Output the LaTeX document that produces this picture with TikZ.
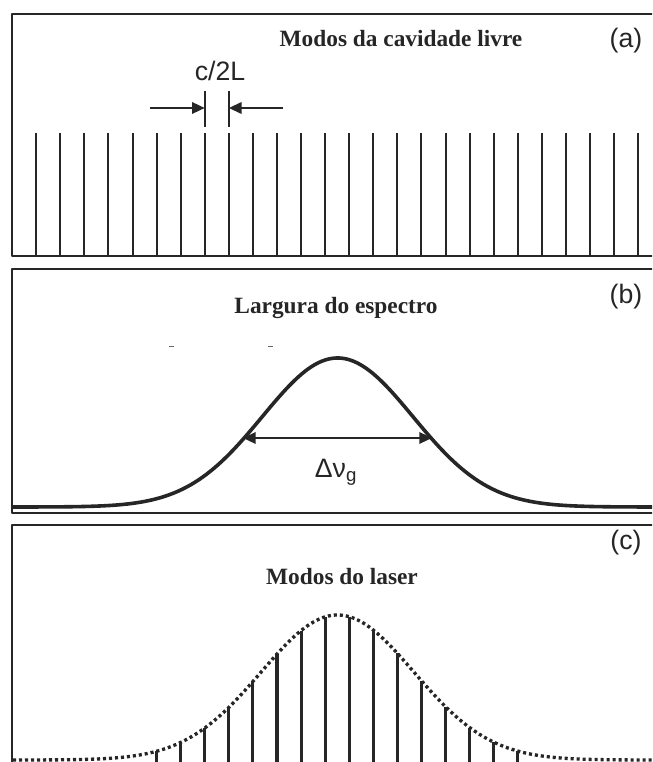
\documentclass[tikz,border=0pt]{standalone}
\usepackage{fontspec}
\setmainfont{Liberation Serif}
\setsansfont{Liberation Sans}
\usepackage{tikz}
\usetikzlibrary{arrows.meta}
\definecolor{ink}{HTML}{262626}
\tikzset{
  spec/.style={x=0.75pt, y=-0.75pt, line join=round},
  panel/.style={draw=ink, line width=2.1pt},
  mode/.style={draw=ink, line width=1.5pt},
  lmode/.style={draw=ink, line width=2.3pt},
  ptitle/.style={font=\fontsize{17.5}{20}\selectfont\bfseries, text=ink, inner sep=0pt},
  ptag/.style={font=\sffamily\fontsize{20}{24}\selectfont, text=ink, inner sep=0pt},
  dim/.style={draw=ink, line width=1.6pt, -{Triangle[length=9.5pt, width=8.5pt]}},
  gain/.style={draw=ink, line width=2.7pt},
  gaindot/.style={draw=ink, line width=2.5pt, dash pattern=on 2.3pt off 2.2pt}
}
\newcommand{\modex}[1]{36.2+24.08*#1}

\begin{document}
\begin{tikzpicture}[spec]
\useasboundingbox (0,0) rectangle (652,762);
\clip (0,0) rectangle (652,762);
\fill[white] (0,0) rectangle (652,762);
% (a) free cavity modes
\draw[panel] (12,14) rectangle (656,256);
\node[ptitle] (ta) at (401,39) {Modos da cavidade livre};
\node[ptag] (la) at (626,41) {(a)};
\foreach \i in {0,...,25}
  \draw[mode] ({\modex{\i}},133) -- ({\modex{\i}},256);
\node[ptag] (fsr) at (220,71) {c/2L};
\coordinate (k1t) at ({\modex{7}},91);  \coordinate (k1b) at ({\modex{7}},127);
\coordinate (k2t) at ({\modex{8}},91);  \coordinate (k2b) at ({\modex{8}},127);
\draw[mode, line width=1.6pt] (k1t) -- (k1b); \draw[mode, line width=1.6pt] (k2t) -- (k2b);
\coordinate (w1) at (150,108); \coordinate (w2) at (283,108);
\draw[dim] (w1) -- ({\modex{7}},108);
\draw[dim] (w2) -- ({\modex{8}},108);
% (b) gain bandwidth
\draw[panel] (12,269) rectangle (656,513);
\node[ptitle] (tb) at (336,308) {Largura do espectro};
\node[ptag] (lb) at (626,297) {(b)};
\draw[ink!70, line width=0.7pt] (169,346) -- (174,346) (268,346) -- (273,346);
\draw[gain] plot[domain=13:652, samples=220] (\x, {507-149*exp(-((\x-337.6)/106.5)^2)});
\coordinate (gl) at (243,438); \coordinate (gr) at (432,438);
\draw[dim, {Triangle[length=9.5pt, width=8.5pt]}-{Triangle[length=9.5pt, width=8.5pt]}] (gl) -- (gr);
\node[font=\sffamily\fontsize{20}{24}\selectfont, text=ink, inner sep=0pt] (dnu) at (336,472) {Δν\textsubscript{g}};
% (c) laser modes
\draw[panel] (12,525) rectangle (656,790);
\node[ptitle] (tc) at (342,577) {Modos do laser};
\node[ptag] (lc) at (626,543) {(c)};
\foreach \i in {5,...,20} {
  \pgfmathsetmacro{\xx}{\modex{\i}}
  \pgfmathsetmacro{\yy}{760-145*exp(-((\xx-337.5)/108)^2)}
  \draw[lmode] (\xx,\yy) -- (\xx,780);
}
\draw[gaindot] plot[domain=13:652, samples=220] (\x, {760-145*exp(-((\x-337.5)/108)^2)});
\end{tikzpicture}
\end{document}
